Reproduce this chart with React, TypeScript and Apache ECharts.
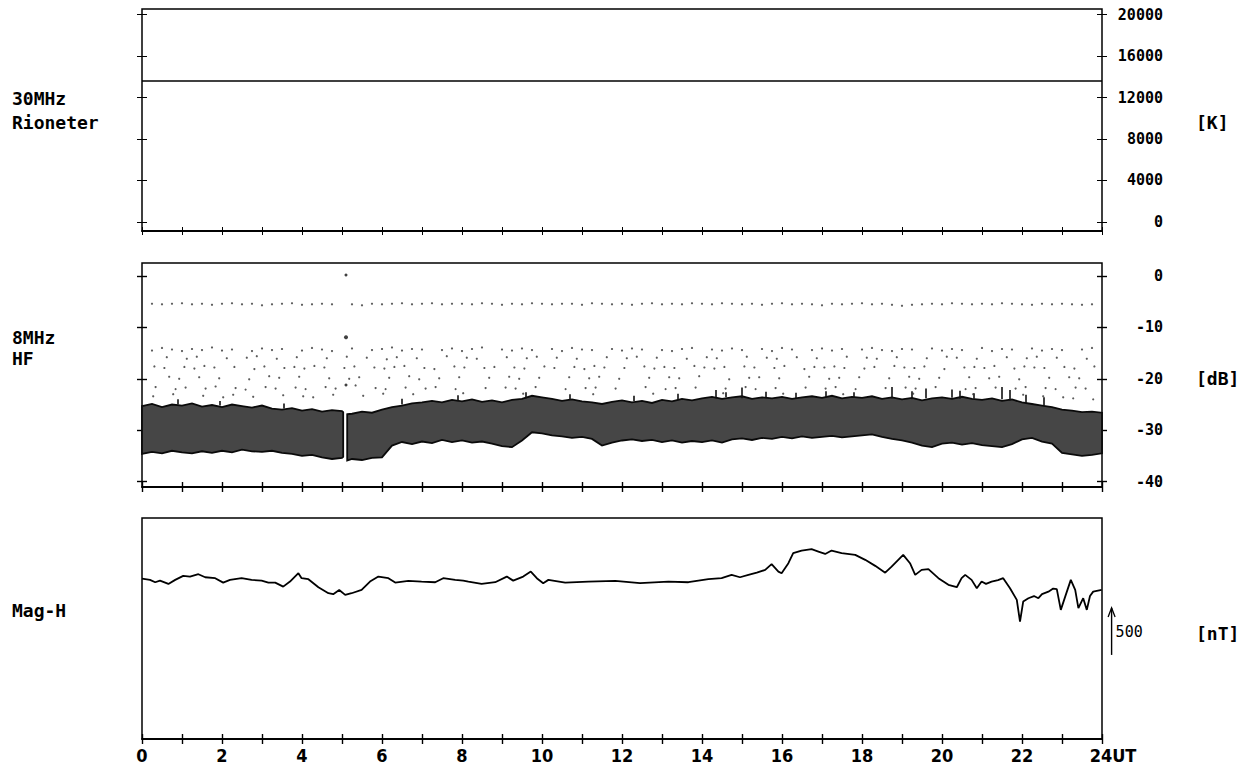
import React, { useEffect, useRef } from "react";
import * as echarts from "echarts";

const _ = null;

// ---------- time grid helper (quarter hours) ----------
function qh(a: number, b: number): number[] {
  const out: number[] = [];
  for (let t = a; t <= b + 1e-9; t += 0.25) out.push(+t.toFixed(2));
  return out;
}

// ---------- Panel 1: 30 MHz riometer [K] ----------
const RIO_T = [0, 24];
const RIO_V = [13600, 13600];
const RIO_TICKS = [0, 4000, 8000, 12000, 16000, 20000];

// ---------- Panel 2: 8 MHz HF [dB] ----------
const HF_TICKS = [-40, -30, -20, -10, 0];
const HF_T = [...qh(0, 5), 5.03, 5.08, 5.13, ...qh(5.25, 24)];
// upper envelope of the dense noise band
const HF_HI = [
  -25.3, -24.9, -25.5, -25.0, -25.2, -24.8, -25.4, -25.1, -25.5, -25.0, -25.3, -25.6,
  -25.2, -25.8, -26.0, -25.7, -26.2, -25.9, -26.4, -26.1,
  -26.3, -26.5, _, -26.9,
  -26.8, -26.4, -26.6,
  -26.0, -25.5, -25.2, -24.8, -24.6, -24.3, -24.6, -24.1, -24.4, -24.0, -24.5, -24.2,
  -24.6, -24.1, -23.9, -23.3, -23.6, -23.9, -24.3, -24.0, -24.4, -24.6, -24.9, -24.5,
  -24.2, -24.6, -24.3, -24.7, -24.1, -24.4, -23.9, -24.2, -23.8, -23.5, -23.9, -23.6,
  -23.4, -23.9, -23.6, -23.8, -23.5, -23.9, -23.6, -23.4, -23.7, -23.3, -23.8, -23.5,
  -23.7, -23.4, -23.9, -23.6, -24.0, -23.7, -24.2, -23.8, -23.6, -23.9, -23.5, -23.9,
  -24.1, -23.8, -24.3, -24.0, -24.6, -24.9, -25.2, -25.5, -26.0, -26.2, -26.5, -26.4,
  -26.6,
];
// lower envelope of the dense noise band
const HF_LO = [
  -34.6, -34.2, -34.5, -34.0, -34.3, -34.5, -34.1, -34.4, -34.0, -34.3, -33.8, -34.1,
  -34.2, -34.0, -34.4, -34.6, -35.0, -34.8, -35.3, -35.6,
  -35.4, -35.2, _, -35.9,
  -35.6, -35.8, -35.4,
  -35.3, -33.0, -32.3, -32.7, -32.2, -32.5, -31.9, -32.3, -32.0, -32.4, -32.2, -32.6,
  -33.1, -33.3, -32.0, -30.4, -30.6, -31.0, -31.2, -31.5, -31.3, -31.7, -33.0, -32.4,
  -32.0, -31.8, -32.1, -31.9, -32.3, -32.0, -32.4, -32.1, -32.3, -32.0, -32.4, -31.8,
  -31.6, -31.9, -31.5, -31.7, -31.3, -31.6, -31.2, -31.5, -31.3, -31.1, -31.4, -31.2,
  -31.0, -30.8, -31.3, -31.7, -32.0, -32.4, -33.0, -33.3, -32.6, -32.4, -32.8, -32.5,
  -32.9, -33.1, -33.3, -32.7, -31.8, -31.5, -32.2, -32.6, -34.4, -34.7, -35.0, -34.8,
  -34.5,
];
// spikes above the band: [hour, base dB, top dB]
const HF_SPIKES = [
  [0.9, -25.0, -24.0], [1.95, -25.2, -24.3], [3.55, -25.8, -24.8], [6.5, -25.0, -23.9],
  [7.9, -24.3, -23.2], [9.6, -23.8, -22.6], [10.7, -24.1, -23.0], [12.3, -24.3, -23.3],
  [13.4, -24.1, -22.9], [14.35, -23.8, -22.2], [14.6, -23.6, -22.6], [15.0, -23.8, -21.7],
  [15.6, -23.7, -22.5], [16.35, -23.8, -22.7], [17.1, -23.6, -22.4], [17.8, -23.7, -22.6],
  [18.75, -23.8, -21.6], [19.25, -24.0, -22.4], [19.6, -23.8, -21.9], [20.25, -23.7, -22.1],
  [20.45, -23.9, -22.3], [20.8, -23.9, -22.8], [21.5, -24.0, -21.6], [21.7, -24.2, -22.2],
  [22.1, -24.7, -23.1], [22.55, -25.2, -23.6],
];
// rows of sparse dots, one value per quarter hour from 0.25 h (null = no dot)
const HF_ROW_TOP = [
  -5.4, -5.5, -5.4, -5.3, -5.5, -5.4, -5.6, -5.4, -5.3, -5.5, -5.4, -5.7,
  -5.5, -5.4, -5.3, -5.6, -5.5, -5.4, -5.5, _, -5.5, -5.7, -5.4, -5.5,
  -5.4, -5.3, -5.5, -5.4, -5.3, -5.5, -5.4, -5.4, -5.5, -5.3, -5.4, -5.6,
  -5.4, -5.5, -5.3, -5.4, -5.5, -5.4, -5.4, -5.6, -5.3, -5.4, -5.5, -5.4,
  -5.6, -5.4, -5.3, -5.5, -5.4, -5.5, -5.3, -5.4, -5.5, -5.3, -5.4, -5.5,
  -5.4, -5.6, -5.4, -5.3, -5.5, -5.4, -5.5, -5.7, -5.4, -5.5, -5.4, -5.3,
  -5.5, -5.4, -5.6, -5.8, -5.6, -5.5, -5.4, -5.5, -5.3, -5.4, -5.5, -5.4,
  -5.5, -5.3, -5.4, -5.5, -5.6, -5.4, -5.5, -5.4, -5.5, -5.6, -5.5,
];
const HF_ROW_1 = [
  -14.5, -14.0, -14.3, -14.6, -14.2, -14.4, -13.9, -14.5, -14.3, _, -14.6, -14.1,
  -14.4, -14.2, _, -14.5, -14.0, -14.3, -14.6, _, -14.1, _, -14.4, -14.2,
  -13.9, -14.5, -14.2, -14.3, _, -14.4, -14.1, -14.6, -14.2, -13.9, _, -14.3,
  -14.5, -14.1, -14.4, _, -14.2, -14.6, -14.0, -14.3, -14.4, _, -14.2, -14.5,
  -14.1, -14.3, _, -14.4, -14.6, -14.2, -14.0, _, -14.3, -14.5, -14.1, -14.4,
  _, -14.2, -14.6, -14.0, -14.3, _, -14.4, -14.1, -14.5, -14.2, _, -14.3,
  -14.0, -14.4, -14.6, -14.2, -14.3, _, -14.1, -14.5, -14.2, -14.4, _, -14.0,
  -14.6, -14.2, -14.3, _, -14.1, -14.5, -14.2, -14.4, _, -14.3, -14.0,
];
const HF_ROW_2 = [
  _, -15.8, _, -16.1, -15.7, _, _, -16.0, _, -15.9, -15.6, _,
  -16.1, _, -15.8, _, _, -16.0, _, -15.7, _, -15.9, _, -16.2,
  -15.8, _, -16.0, _, _, -15.6, _, -15.9, -16.1, _, _, -15.8,
  _, -16.0, -15.7, _, -15.9, _, -16.1, _, _, -15.8, _, -16.0,
  -15.7, _, -15.9, _, _, -16.1, _, -15.8, -16.0, _, _, -15.7,
  _, -15.9, -16.1, _, -15.8, _, -16.0, _, _, -15.7, _, -15.9,
  -16.1, _, -15.8, _, _, -16.0, _, -15.7, -15.9, _, -16.1, _,
  _, -15.8, _, -16.0, -15.7, _, -15.9, _, _, -16.1, _,
];
const HF_ROW_3 = [
  -17.6, -17.9, _, -17.7, -18.0, -17.5, -17.8, _, -17.7, _, -18.1, -17.6,
  _, -17.9, -17.7, -18.0, -17.5, -17.8, _, -17.9, -17.6, _, -17.8, -18.0,
  -17.7, -17.5, _, -17.9, -18.1, _, -17.6, -17.8, _, -17.9, -17.7, _,
  -17.8, -18.0, _, -17.6, -17.9, _, -17.7, -18.1, -17.5, -17.8, _, -17.9,
  _, -17.6, -18.0, -17.7, -17.9, _, -17.5, -17.8, -18.0, -17.7, _, -17.6,
  -17.8, _, -17.9, -17.5, _, -18.1, -17.7, -17.8, -17.6, -17.9, _, -18.0,
  -17.7, _, -17.5, -17.8, -17.9, -17.6, _, -18.1, _, -17.8, -17.7, -17.9,
  -17.5, _, -18.0, -17.6, -17.8, -17.9, _, -17.7, -18.0, _, -17.6,
];
const HF_ROW_4 = [
  _, -19.6, -20.0, _, -19.7, _, -19.9, _, _, -20.1, _, -19.5,
  -19.8, _, -19.6, _, _, -19.9, _, -20.0, -19.7, _, _, -19.8,
  _, -19.5, -20.1, _, -19.9, _, -19.7, _, _, -19.8, _, -19.6,
  -20.0, _, -19.8, _, _, -19.7, _, -19.9, -19.6, _, -20.0, _,
  _, -19.8, _, -19.7, -19.9, _, -19.5, _, _, -20.1, _, -19.8,
  -19.7, _, -19.9, _, _, -19.6, _, -20.0, -19.8, _, -19.7, _,
  _, -19.9, _, -19.6, -20.0, _, -19.8, _, _, -19.7, _, -19.9,
  -19.6, _, -20.1, _, _, -19.8, _, -19.7, -19.9, _, _,
];
const HF_ROW_5 = [
  -21.6, _, -22.0, -21.7, _, -21.9, -21.5, _, -21.8, -22.1, _, -21.6,
  -21.9, _, -21.7, -22.0, _, -21.6, -21.9, _, -21.3, _, -21.8, -22.0,
  _, -21.7, _, -21.9, -21.6, _, -22.0, _, _, -21.8, _, -21.7,
  -21.9, _, -21.6, _, _, -22.0, _, -21.8, -21.7, _, -21.9, _,
  _, -21.6, _, -22.0, -21.8, _, -21.7, _, _, -21.9, _, -21.6,
  -22.0, _, -21.8, _, _, -21.7, _, -21.9, -21.6, _, -22.0, _,
  _, -21.8, _, -21.7, -21.9, _, -21.6, _, _, -22.0, -21.8, _,
  -21.7, _, -21.9, -21.6, _, -21.8, -22.0, _, -21.7, -21.9, _,
];
const HF_ROW_6 = [
  -23.4, _, -23.0, _, _, -23.3, _, -23.6, -23.1, _, -23.5, _,
  _, -23.2, _, -23.4, -23.6, _, -23.1, _, _, -23.3, _, -22.9,
  _, _, -23.0, _, _, _, _, -22.8, _, _, _, _,
  _, -22.9, _, _, _, _, _, _, -23.0, _, _, _,
  _, _, -22.9, _, _, _, _, _, _, -22.8, _, _,
  _, _, _, -22.9, _, _, _, _, _, -23.0, _, _,
  _, _, _, _, -22.9, _, _, _, _, _, -23.0, _,
  _, _, _, -23.1, _, -23.4, _, -23.6, -23.8, _, -24.0,
];
const HF_ROWS = [
  { values: HF_ROW_TOP, shift: 0 },
  { values: HF_ROW_1, shift: 0 },
  { values: HF_ROW_2, shift: 0.12 },
  { values: HF_ROW_3, shift: 0.06 },
  { values: HF_ROW_4, shift: 0.18 },
  { values: HF_ROW_5, shift: 0.09 },
  { values: HF_ROW_6, shift: 0.03 },
];
const HF_ISOLATED = [
  [5.1, 0.2],
  [5.1, -11.9],
  [5.1, -21.2],
];

// ---------- Panel 3: magnetometer H [nT] ----------
const MAG_T = [
  0.0, 0.2, 0.33, 0.45, 0.66, 0.83, 1.03, 1.2, 1.41, 1.58, 1.83, 2.03, 2.2, 2.49, 2.74, 2.99,
  3.16, 3.33, 3.53, 3.7, 3.91, 3.99, 4.16, 4.41, 4.66, 4.78, 4.93, 5.08, 5.24, 5.49, 5.7, 5.91,
  6.16, 6.33, 6.66, 6.99, 7.33, 7.53, 7.83, 8.03, 8.16, 8.49, 8.83, 9.12, 9.28, 9.53, 9.72, 9.87,
  10.03, 10.16, 10.58, 11.16, 11.83, 12.45, 13.16, 13.66, 14.16, 14.49, 14.74, 14.95, 15.16, 15.37,
  15.58, 15.74, 15.91, 15.99, 16.16, 16.28, 16.49, 16.74, 16.91, 17.08, 17.24, 17.49, 17.83, 18.08,
  18.33, 18.58, 18.74, 19.03, 19.2, 19.33, 19.49, 19.66, 19.91, 20.16, 20.37, 20.49, 20.58, 20.74,
  20.87, 20.99, 21.1, 21.24, 21.4, 21.53, 21.7, 21.87, 21.95, 22.03, 22.16, 22.3, 22.41, 22.5,
  22.66, 22.78, 22.87, 22.97, 23.08, 23.22, 23.33, 23.41, 23.53, 23.62, 23.7, 23.78, 23.99,
];
const MAG_V = [
  1705, 1692, 1667, 1684, 1649, 1692, 1734, 1727, 1752, 1720, 1710, 1663, 1692, 1710, 1692, 1684,
  1663, 1663, 1620, 1674, 1763, 1710, 1699, 1614, 1550, 1540, 1585, 1532, 1550, 1585, 1674, 1727,
  1710, 1663, 1681, 1674, 1667, 1710, 1692, 1684, 1674, 1649, 1667, 1727, 1684, 1727, 1780, 1710,
  1657, 1692, 1663, 1674, 1681, 1657, 1674, 1667, 1699, 1710, 1745, 1720, 1745, 1769,
  1798, 1859, 1780, 1763, 1869, 1976, 2004, 2018, 1993, 1968, 2004, 1976, 1958, 1905,
  1841, 1769, 1833, 1958, 1869, 1745, 1798, 1806, 1710, 1639, 1614, 1710, 1745, 1692,
  1603, 1674, 1650, 1674, 1690, 1710, 1603, 1479, 1248, 1461, 1497, 1520, 1497, 1540,
  1567, 1600, 1593, 1373, 1514, 1692, 1585, 1391, 1497, 1373, 1520, 1567, 1585,
];
// 500 nT scale arrow: [hour, from nT, to nT]
const MAG_SCALE = [[24.24, 894, 1394]];
const MAG_SCALE_LABEL = "500";

const MONO = '"DejaVu Sans Mono", "Liberation Mono", monospace';
const NARROW = '"Liberation Sans Narrow", "DejaVu Sans Condensed", "Arial Narrow", sans-serif';

export default function App() {
  const ref = useRef<HTMLDivElement>(null);

  useEffect(() => {
    if (!ref.current) return;
    const chart = echarts.init(ref.current, undefined, { renderer: "svg" });

    const frame = {
      show: true,
      borderColor: "#000",
      borderWidth: 1.5,
      backgroundColor: "rgba(0,0,0,0)",
      outerBoundsMode: "none",
    };

    const xAx = (gi: number, inside: boolean, labels: boolean) => ({
      type: "value",
      gridIndex: gi,
      min: 0,
      max: 24,
      interval: 1,
      position: "bottom",
      axisLine: { show: true, onZero: false, lineStyle: { color: "#000", width: 1.5 } },
      axisTick: {
        show: true,
        inside,
        length: gi === 0 ? 4 : 5,
        lineStyle: { color: "#000", width: gi === 0 ? 1 : 1.4 },
      },
      axisLabel: labels
        ? {
            show: true,
            margin: 7,
            showMinLabel: true,
            showMaxLabel: true,
            formatter: (v: number) =>
              v % 2 !== 0 ? "" : v === 24 ? "{u|24UT}" : "{n|" + v + "}",
            rich: {
              n: { fontFamily: NARROW, fontWeight: "bold", fontSize: 18, color: "#000" },
              u: {
                fontFamily: NARROW,
                fontWeight: "bold",
                fontSize: 18,
                color: "#000",
                padding: [0, 0, 0, 22],
              },
            },
          }
        : { show: false },
      splitLine: { show: false },
    });

    const yAx = (
      gi: number,
      pos: string,
      inside: boolean,
      min: number,
      max: number,
      ticks: number[],
      labels: boolean
    ) => ({
      type: "value",
      gridIndex: gi,
      position: pos,
      min,
      max,
      axisLine: { show: false, onZero: false },
      axisTick: {
        show: true,
        inside,
        length: 5,
        customValues: ticks,
        lineStyle: { color: "#000", width: gi === 0 ? 1 : 1.4 },
      },
      axisLabel: labels
        ? {
            show: true,
            customValues: ticks,
            align: "right",
            margin: 61,
            color: "#000",
            fontFamily: MONO,
            fontWeight: "bold",
            fontSize: 15,
            formatter: (v: number) => String(v),
          }
        : { show: false },
      splitLine: { show: false },
    });

    const RIO_MIN = -880;
    const RIO_MAX = 20550;
    const HF_MIN = -41.05;
    const HF_MAX = 2.53;

    const hfDots: number[][] = [];
    HF_ROWS.forEach((row) => {
      row.values.forEach((v, k) => {
        if (v !== null) hfDots.push([0.25 + 0.25 * k + row.shift, v as number]);
      });
    });

    const labelFont = `bold 18px ${MONO}`;

    const option: any = {
      animation: false,
      backgroundColor: "#fff",
      grid: [
        { left: 142, top: 9, width: 960, height: 222, ...frame },
        { left: 142, top: 263, width: 960, height: 224, ...frame },
        { left: 142, top: 518, width: 960, height: 221, ...frame },
      ],
      xAxis: [
        xAx(0, false, false),
        xAx(0, true, false),
        xAx(1, false, false),
        xAx(1, true, false),
        xAx(2, false, true),
        xAx(2, true, false),
      ],
      yAxis: [
        yAx(0, "left", false, RIO_MIN, RIO_MAX, RIO_TICKS, false),
        yAx(0, "left", true, RIO_MIN, RIO_MAX, RIO_TICKS, false),
        yAx(0, "right", false, RIO_MIN, RIO_MAX, RIO_TICKS, true),
        yAx(0, "right", true, RIO_MIN, RIO_MAX, RIO_TICKS, false),
        yAx(1, "left", false, HF_MIN, HF_MAX, HF_TICKS, false),
        yAx(1, "left", true, HF_MIN, HF_MAX, HF_TICKS, false),
        yAx(1, "right", false, HF_MIN, HF_MAX, HF_TICKS, true),
        yAx(1, "right", true, HF_MIN, HF_MAX, HF_TICKS, false),
        { type: "value", gridIndex: 2, min: 0, max: 2350, show: false },
      ],
      series: [
        {
          type: "line",
          xAxisIndex: 0,
          yAxisIndex: 0,
          data: RIO_T.map((t, i) => [t, RIO_V[i]]),
          showSymbol: false,
          lineStyle: { color: "#000", width: 1.6 },
          silent: true,
        },
        {
          type: "custom",
          xAxisIndex: 2,
          yAxisIndex: 4,
          data: [[0, -30]],
          silent: true,
          renderItem: (params: any, api: any) => {
            const children: any[] = [];
            let run: number[] = [];
            const flush = () => {
              if (run.length > 1) {
                const up = run.map((i) => api.coord([HF_T[i], HF_HI[i]]));
                const lo = run
                  .slice()
                  .reverse()
                  .map((i) => api.coord([HF_T[i], HF_LO[i]]));
                children.push({
                  type: "polygon",
                  shape: { points: up.concat(lo) },
                  style: { fill: "#464646", stroke: "#0a0a0a", lineWidth: 1.8 },
                });
              }
              run = [];
            };
            for (let i = 0; i < HF_T.length; i++) {
              if (HF_HI[i] === null || HF_LO[i] === null) flush();
              else run.push(i);
            }
            flush();
            return { type: "group", children };
          },
        },
        {
          type: "custom",
          xAxisIndex: 2,
          yAxisIndex: 4,
          data: HF_SPIKES,
          encode: { x: 0, y: [1, 2] },
          silent: true,
          renderItem: (params: any, api: any) => {
            const t = api.value(0);
            const p1 = api.coord([t, api.value(1)]);
            const p2 = api.coord([t, api.value(2)]);
            return {
              type: "line",
              shape: { x1: p1[0], y1: p1[1], x2: p2[0], y2: p2[1] },
              style: { stroke: "#111", lineWidth: 1.6 },
            };
          },
        },
        {
          type: "scatter",
          xAxisIndex: 2,
          yAxisIndex: 4,
          data: hfDots,
          symbol: "circle",
          symbolSize: 2.2,
          itemStyle: { color: "#333" },
          silent: true,
        },
        {
          type: "scatter",
          xAxisIndex: 2,
          yAxisIndex: 4,
          data: HF_ISOLATED,
          symbol: "circle",
          symbolSize: (v: number[]) => (v[1] < -5 && v[1] > -15 ? 4 : 3),
          itemStyle: { color: "#111" },
          silent: true,
        },
        {
          type: "line",
          xAxisIndex: 4,
          yAxisIndex: 8,
          data: MAG_T.map((t, i) => [t, MAG_V[i]]),
          showSymbol: false,
          lineStyle: { color: "#000", width: 1.8 },
          silent: true,
        },
        {
          type: "custom",
          xAxisIndex: 4,
          yAxisIndex: 8,
          data: MAG_SCALE,
          encode: { x: 0, y: [1, 2] },
          clip: false,
          silent: true,
          renderItem: (params: any, api: any) => {
            const t = api.value(0);
            const a = api.coord([t, api.value(1)]);
            const b = api.coord([t, api.value(2)]);
            return {
              type: "group",
              children: [
                {
                  type: "line",
                  shape: { x1: a[0], y1: a[1], x2: b[0], y2: b[1] },
                  style: { stroke: "#000", lineWidth: 1.4 },
                },
                {
                  type: "polyline",
                  shape: {
                    points: [
                      [b[0] - 3.5, b[1] + 9],
                      [b[0], b[1]],
                      [b[0] + 3.5, b[1] + 9],
                    ],
                  },
                  style: { stroke: "#000", fill: null, lineWidth: 1.3 },
                },
                {
                  type: "text",
                  x: a[0] + 4,
                  y: (a[1] + b[1]) / 2 + 1,
                  style: {
                    text: MAG_SCALE_LABEL,
                    fill: "#000",
                    font: `15px ${MONO}`,
                    verticalAlign: "middle",
                  },
                },
              ],
            };
          },
        },
      ],
      graphic: [
        { type: "text", x: 12, y: 98, style: { text: "30MHz", fill: "#000", font: labelFont, verticalAlign: "middle" } },
        { type: "text", x: 12, y: 122, style: { text: "Rioneter", fill: "#000", font: labelFont, verticalAlign: "middle" } },
        { type: "text", x: 12, y: 337, style: { text: "8MHz", fill: "#000", font: labelFont, verticalAlign: "middle" } },
        { type: "text", x: 12, y: 358, style: { text: "HF", fill: "#000", font: labelFont, verticalAlign: "middle" } },
        { type: "text", x: 12, y: 610, style: { text: "Mag-H", fill: "#000", font: labelFont, verticalAlign: "middle" } },
        { type: "text", x: 1196, y: 122, style: { text: "[K]", fill: "#000", font: labelFont, verticalAlign: "middle" } },
        { type: "text", x: 1196, y: 378, style: { text: "[dB]", fill: "#000", font: labelFont, verticalAlign: "middle" } },
        { type: "text", x: 1196, y: 633, style: { text: "[nT]", fill: "#000", font: labelFont, verticalAlign: "middle" } },
      ],
    };

    chart.setOption(option);
    return () => chart.dispose();
  }, []);

  return (
    <div
      ref={ref}
      style={{ position: "absolute", left: 0, top: 0, width: 1258, height: 773, background: "#fff" }}
    />
  );
}
